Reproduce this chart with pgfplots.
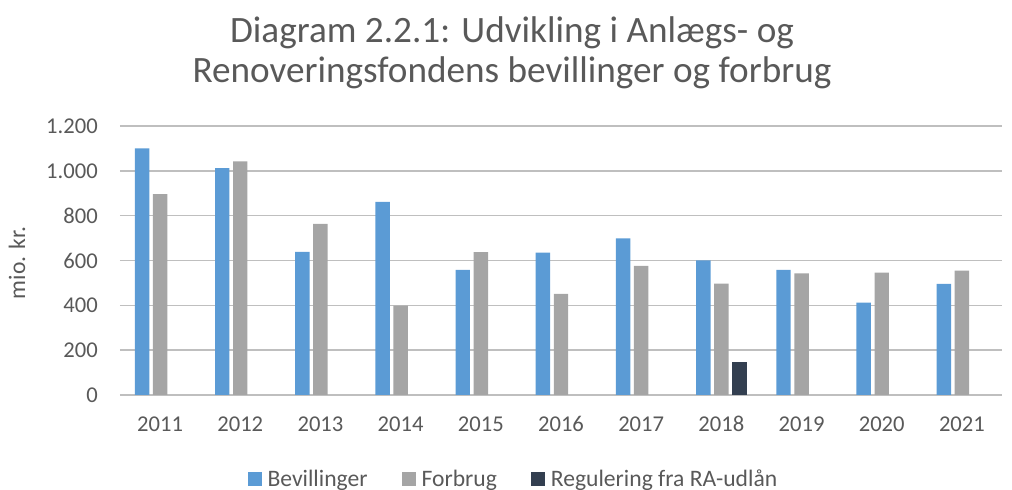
\documentclass[border=0pt]{standalone}
\usepackage{pgfplots}
\pgfplotsset{compat=1.18}
\usepackage{fontspec}
\setmainfont{Carlito}
\definecolor{cB}{HTML}{5B9BD5}
\definecolor{cF}{HTML}{A5A5A5}
\definecolor{cR}{HTML}{333F50}
\definecolor{txt}{HTML}{595959}
\definecolor{grid}{HTML}{D9D9D9}
\begin{document}
\begin{tikzpicture}
\useasboundingbox (-60pt,-47.5pt) rectangle (446pt,197.5pt);
\begin{axis}[
  at={(0,0)}, anchor=south west,
  scale only axis, width=441pt, height=134.5pt,
  xmin=-0.5, xmax=10.5, ymin=0, ymax=1200,
  ytick={0,200,...,1200},
  xtick={0,...,10},
  xticklabels={2011,2012,2013,2014,2015,2016,2017,2018,2019,2020,2021},
  axis line style={draw=none},
  major tick length=0pt, tick style={draw=none},
  xmajorgrids=false, ymajorgrids=true, grid style={grid, line width=0.8pt},
  tick label style={font=\fontsize{11.3}{13}\selectfont, text=txt},
  /pgf/number format/assume math mode=true,
  /pgf/number format/.cd, 1000 sep={.}, /pgfplots/.cd,
  yticklabel style={xshift=-7.6pt},
  xticklabel style={yshift=-8pt, text height=0.66em, text depth=0pt},
  ybar, bar width=0.18,
  legend style={at={(0.446,-0.314)}, anchor=center, draw=none, fill=none,
    legend columns=3, font=\fontsize{11.8}{14}\selectfont, text=txt,
    nodes={inner sep=1pt},
    /tikz/every odd column/.append style={column sep=2pt},
    /tikz/every even column/.append style={column sep=16pt}},
  legend image code/.code={\fill[#1] (0pt,-3.5pt) rectangle (7pt,3.5pt);},
]
\addplot[fill=cB, draw=none, bar shift=-0.225] coordinates {
(0,1100) (1,1012) (2,638) (3,862) (4,558) (5,635) (6,699) (7,601) (8,558) (9,412) (10,496)};
\addplot[fill=cF, draw=none, bar shift=0] coordinates {
(0,896) (1,1042) (2,763) (3,399) (4,637) (5,451) (6,576) (7,497) (8,542) (9,546) (10,555)};
\addplot[fill=cR, draw=none, bar shift=0.225] coordinates {(7,149)};
\legend{Bevillinger, Forbrug, Regulering fra RA-udlån}
\end{axis}
\node[anchor=base, text=txt, font=\fontsize{18.6}{22}\selectfont] at (196pt,176pt) {Diagram 2.2.1: Udvikling i Anlægs- og};
\node[anchor=base, text=txt, font=\fontsize{18.6}{22}\selectfont] at (196pt,156pt) {Renoveringsfondens bevillinger og forbrug};
\node[rotate=90, text=txt, font=\fontsize{11.8}{13}\selectfont] at (-51.5pt,66pt) {mio. kr.};
\end{tikzpicture}
\end{document}
